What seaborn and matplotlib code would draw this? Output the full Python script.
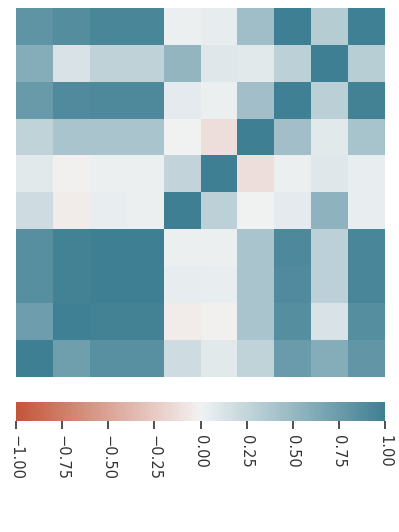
import numpy as np
import pandas as pd
import matplotlib
matplotlib.use("Agg")
import matplotlib.pyplot as plt
import seaborn as sns

rows = [f"r{i}" for i in range(10)]
cols = [f"c{i}" for i in range(10)]
r0 = [0.82, 0.88, 0.94, 0.94, 0.03, 0.05, 0.45, 1.00, 0.33, 0.99]
r1 = [0.60, 0.13, 0.28, 0.28, 0.53, 0.10, 0.08, 0.29, 1.00, 0.32]
r2 = [0.76, 0.90, 0.92, 0.92, 0.07, 0.03, 0.44, 0.99, 0.30, 0.97]
r3 = [0.27, 0.40, 0.40, 0.40, 0.00, -0.12, 1.00, 0.44, 0.08, 0.41]
r4 = [0.08, -0.01, 0.03, 0.03, 0.26, 1.00, -0.12, 0.03, 0.10, 0.04]
r5 = [0.19, -0.04, 0.04, 0.03, 1.00, 0.29, 0.00, 0.07, 0.54, 0.04]
r6 = [0.86, 0.97, 1.00, 1.00, 0.03, 0.03, 0.40, 0.91, 0.29, 0.93]
r7 = [0.86, 0.97, 1.00, 1.00, 0.05, 0.04, 0.40, 0.90, 0.29, 0.93]
r8 = [0.73, 0.99, 0.97, 0.97, -0.04, -0.01, 0.40, 0.87, 0.13, 0.87]
r9 = [1.00, 0.72, 0.85, 0.85, 0.19, 0.08, 0.27, 0.75, 0.60, 0.80]
cbar_ticks = [-1.0, -0.75, -0.5, -0.25, 0.0, 0.25, 0.5, 0.75, 1.0]

df = pd.DataFrame([r0, r1, r2, r3, r4, r5, r6, r7, r8, r9], index=rows, columns=cols)

sns.set_theme(style="white")
plt.rcParams['font.family'] = ['DejaVu Sans']

W, H = 399, 532
fig = plt.figure(figsize=(W / 100, H / 100), dpi=100)
ax = fig.add_axes([16 / W, (H - 376.5) / H, 369 / W, 368.5 / H])
cax = fig.add_axes([16 / W, (H - 420.7) / H, 369 / W, 18.7 / H])

cmap = sns.diverging_palette(20, 220, as_cmap=True)
sns.heatmap(df, ax=ax, cmap=cmap, vmin=-1, vmax=1, center=0,
            cbar_ax=cax, cbar_kws={"orientation": "horizontal", "ticks": cbar_ticks},
            xticklabels=False, yticklabels=False)
ax.set_xlabel("")
ax.set_ylabel("")

cax.tick_params(axis="x", which="major", length=6, width=1.25, color="#3a3a3a",
                labelsize=10.5, labelcolor="#333333", bottom=True, pad=4)
for lbl in cax.get_xticklabels():
    lbl.set_rotation(270)
    lbl.set_va("top")
    lbl.set_ha("center")

fig.savefig("out.png", dpi=100)
